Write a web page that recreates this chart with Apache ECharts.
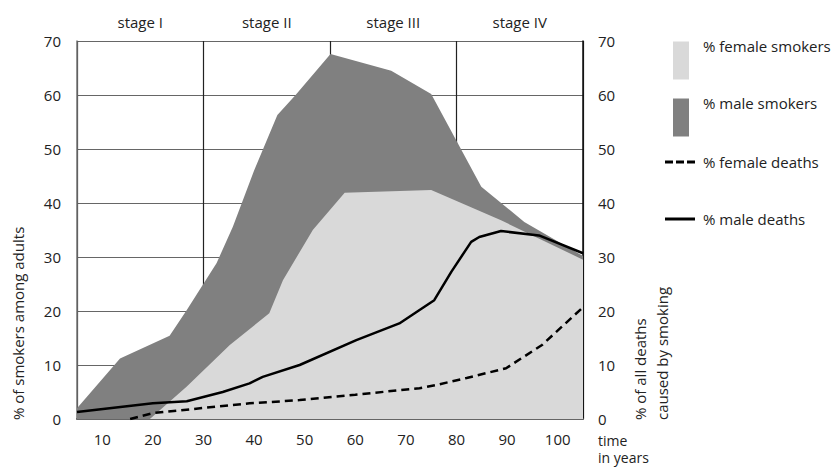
<!DOCTYPE html>
<html>
<head>
<meta charset="utf-8">
<script src="https://cdn.jsdelivr.net/npm/echarts@6/dist/echarts.min.js"></script>
<style>
html,body{margin:0;padding:0;background:#fff;}
#chart{width:837px;height:467px;}
</style>
</head>
<body>
<div id="chart"></div>
<script>
// ---- data ----
const stages = ['stage I', 'stage II', 'stage III', 'stage IV'];
const xTickValues = [10, 20, 30, 40, 50, 60, 70, 80, 90, 100];
const maleSmokers = [[5,2],[13.5,11.2],[23.3,15.4],[26.7,20.2],[32.6,28.9],[35.8,35.6],[40,46],[44.6,56.3],[48.2,60],[55.1,67.6],[67.1,64.5],[75,60.2],[84.9,43],[93.4,36.5],[105,30.2]];
const femaleSmokers = [[5,0],[19.4,0],[26.7,6],[35.2,13.7],[43,19.6],[45.7,25.7],[51.6,35],[57.9,41.9],[75,42.4],[88.8,36.8],[105,29.5]];
const maleDeaths = [[5,1.3],[20,2.9],[26.7,3.3],[33.8,5],[39.1,6.6],[41.7,7.8],[49,10],[60.2,14.6],[68.7,17.7],[72.7,20.2],[75.6,22],[79,27.3],[82.9,32.8],[84.5,33.7],[88.8,34.8],[96.3,34],[105,30.7]];
const femaleDeaths = [[15.5,0],[20,1.1],[39.1,2.9],[49,3.5],[60,4.5],[72.7,5.7],[76,6.3],[82,7.6],[89.8,9.4],[96.9,13.7],[105,20.7]];

const FONT = 'Open Sans';
const FS = 15;
const TXT = '#222';
const DARK = '#808080';
const LIGHT = '#d9d9d9';

const chart = echarts.init(document.getElementById('chart'), null, {renderer: 'svg'});

function legendBlock(name, top, left, w, h, padBottom, padLeft, icon, color) {
  return {
    data: [{name: name, icon: icon, itemStyle: {color: color, borderWidth: 0}}],
    top: top, left: left, orient: 'vertical',
    itemWidth: w, itemHeight: h, selectedMode: false, padding: 0,
    formatter: function (n) { return '{t|' + n + '}'; },
    textStyle: {
      fontFamily: FONT, fontSize: FS, color: TXT,
      rich: {t: {fontFamily: FONT, fontSize: FS, color: TXT, padding: [0, 0, padBottom, padLeft]}}
    }
  };
}

chart.setOption({
  animation: false,
  backgroundColor: '#fff',
  grid: {left: 77, top: 41, right: 254, bottom: 48, containLabel: false},
  legend: [
    legendBlock('% female smokers', 38, 673, 16, 38, 30, 9, 'rect', LIGHT),
    legendBlock('% male smokers', 95, 673, 16, 38, 30, 9, 'rect', DARK),
    legendBlock('% female deaths', 154.5, 665, 30, 3, 0, 3, 'path://M0,0h8v3h-8zM11,0h8v3h-8zM22,0h8v3h-8z', '#000'),
    legendBlock('% male deaths', 211.5, 665, 30, 3, 0, 3, 'path://M0,0h30v3h-30z', '#000')
  ],
  xAxis: [
    {
      type: 'value', position: 'bottom', min: 5, max: 105,
      axisLine: {show: true, lineStyle: {color: '#222', width: 1.5}},
      axisTick: {show: false},
      splitLine: {show: false},
      axisLabel: {customValues: xTickValues, fontFamily: FONT, fontSize: FS, color: TXT, margin: 12}
    },
    {
      type: 'category', position: 'top', data: stages, boundaryGap: true,
      axisLine: {show: true, lineStyle: {color: '#777', width: 1.5}},
      axisTick: {show: false},
      splitLine: {show: true, lineStyle: {color: '#222', width: 1.2}},
      axisLabel: {fontFamily: FONT, fontSize: FS, color: TXT, margin: 12}
    }
  ],
  yAxis: [
    {
      type: 'value', position: 'left', min: 0, max: 70, interval: 10,
      axisLine: {show: true, lineStyle: {color: '#777', width: 1.5}},
      axisTick: {show: false},
      splitLine: {show: true, lineStyle: {color: '#666', width: 1.2}},
      axisLabel: {fontFamily: FONT, fontSize: FS, color: TXT, margin: 16}
    },
    {
      type: 'value', position: 'right', min: 0, max: 70, interval: 10,
      axisLine: {show: true, lineStyle: {color: '#111', width: 1.5}},
      axisTick: {show: false},
      splitLine: {show: false},
      axisLabel: {fontFamily: FONT, fontSize: FS, color: TXT, margin: 15}
    }
  ],
  graphic: [
    {type: 'text', x: 18, y: 420, rotation: Math.PI / 2,
     style: {text: '% of smokers among adults', fontFamily: FONT, fontSize: FS, fill: TXT, align: 'left', verticalAlign: 'middle'}},
    {type: 'text', x: 640, y: 420, rotation: Math.PI / 2,
     style: {text: '% of all deaths', fontFamily: FONT, fontSize: FS, fill: TXT, align: 'left', verticalAlign: 'middle'}},
    {type: 'text', x: 662, y: 420, rotation: Math.PI / 2,
     style: {text: 'caused by smoking', fontFamily: FONT, fontSize: FS, fill: TXT, align: 'left', verticalAlign: 'middle'}},
    {type: 'text', x: 598, y: 440,
     style: {text: 'time', fontFamily: FONT, fontSize: 14, fill: TXT, align: 'left', verticalAlign: 'middle'}},
    {type: 'text', x: 598, y: 457.5,
     style: {text: 'in years', fontFamily: FONT, fontSize: 14, fill: TXT, align: 'left', verticalAlign: 'middle'}}
  ],
  series: [
    {
      name: '% male smokers', type: 'line', xAxisIndex: 0, yAxisIndex: 0,
      data: maleSmokers, symbol: 'none', z: 2,
      itemStyle: {color: DARK},
      lineStyle: {width: 0, color: DARK},
      areaStyle: {color: DARK, opacity: 1}
    },
    {
      name: '% female smokers', type: 'line', xAxisIndex: 0, yAxisIndex: 0,
      data: femaleSmokers, symbol: 'none', z: 3,
      itemStyle: {color: LIGHT},
      lineStyle: {width: 0, color: LIGHT},
      areaStyle: {color: LIGHT, opacity: 1}
    },
    {
      name: '% female deaths', type: 'line', xAxisIndex: 0, yAxisIndex: 1,
      data: femaleDeaths, symbol: 'none', z: 4,
      itemStyle: {color: '#000'},
      lineStyle: {width: 2.5, color: '#000', type: [8, 5]}
    },
    {
      name: '% male deaths', type: 'line', xAxisIndex: 0, yAxisIndex: 1,
      data: maleDeaths, symbol: 'none', z: 4,
      itemStyle: {color: '#000'},
      lineStyle: {width: 2.5, color: '#000'}
    }
  ]
});
</script>
</body>
</html>
